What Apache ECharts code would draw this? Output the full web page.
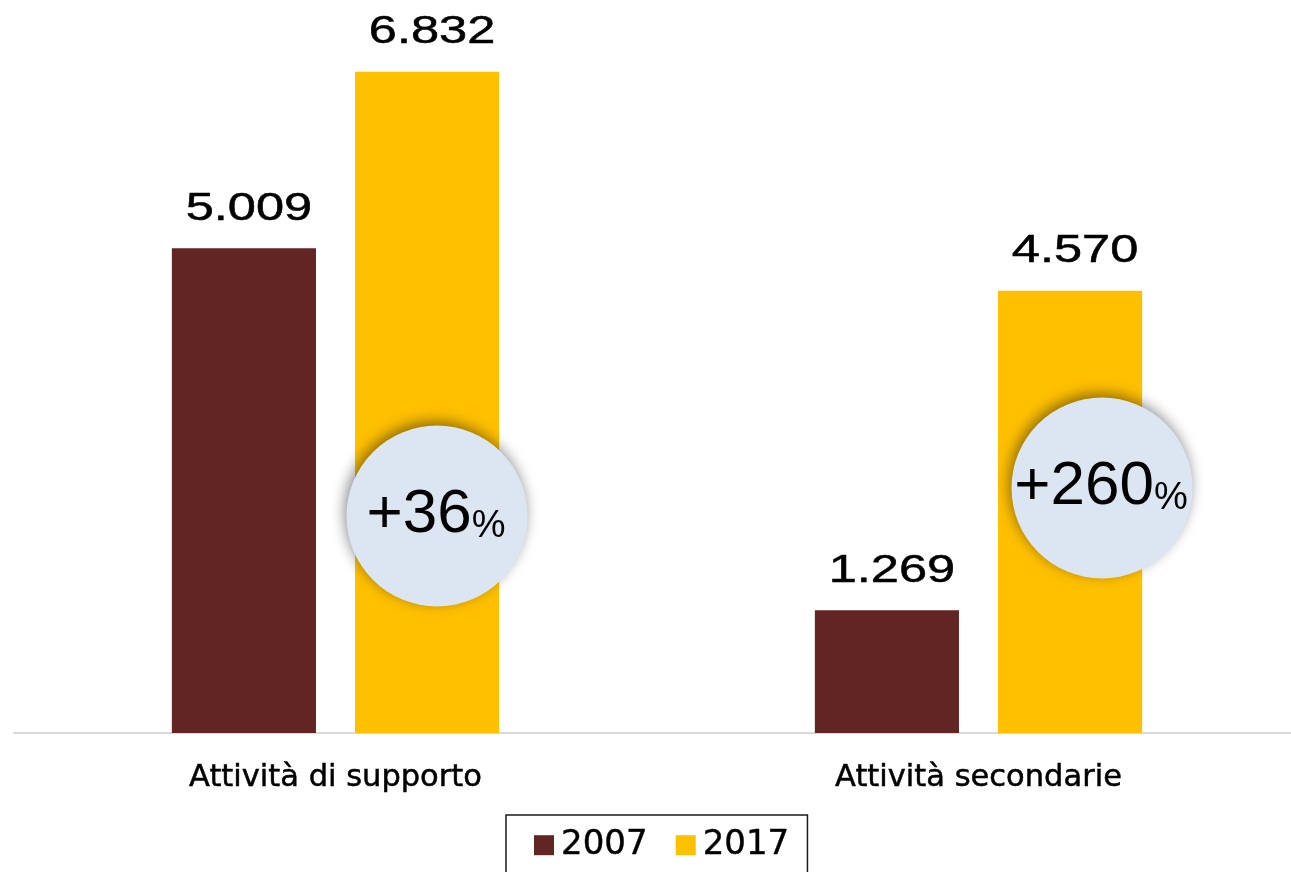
<!DOCTYPE html>
<html>
<head>
<meta charset="utf-8">
<script src="https://cdn.jsdelivr.net/npm/echarts@6/dist/echarts.min.js"></script>
<style>
  html, body { margin: 0; padding: 0; background: #ffffff; }
  #chart { width: 1291px; height: 872px; }
</style>
</head>
<body>
<div id="chart"></div>
<script>
// Addetti per tipo di attività, 2007 vs 2017
const categories = ['Attività di supporto', 'Attività secondarie'];
const years = ['2007', '2017'];
const values2007 = [5009, 1269];
const values2017 = [6832, 4570];

// Badge placement relative to each category's baseline point (px)
const badgeOffsets = [[101.5, 217], [123.5, 245]];

const COLOR_2007 = '#632523';
const COLOR_2017 = '#FFC000';
const CAT_GAP = 0.491;
const BAR_GAP = 0.271;

function fmtIt(n) {
  return String(n).replace(/\B(?=(\d{3})+(?!\d))/g, '.');
}

const growth = categories.map((c, i) =>
  Math.round((values2017[i] / values2007[i] - 1) * 100));

const labelData = [];
values2007.forEach((v, i) => labelData.push([i, v, 0]));
values2017.forEach((v, i) => labelData.push([i, v, 1]));

const chart = echarts.init(document.getElementById('chart'));

chart.setOption({
  animation: false,
  backgroundColor: '#ffffff',
  grid: {
    left: 14, right: -9, top: 55.6, bottom: 139,
    outerBoundsMode: 'none',
    containLabel: false
  },
  legend: {
    data: years,
    left: 506,
    top: 815,
    orient: 'horizontal',
    icon: 'rect',
    itemWidth: 20,
    itemHeight: 20,
    itemGap: 28,
    padding: [13, 18, 40, 28],
    borderColor: '#1a1a1a',
    borderWidth: 1.5,
    textStyle: {
      fontFamily: 'DejaVu Sans',
      fontSize: 34,
      color: '#000000',
      textBorderColor: '#000000',
      textBorderWidth: 0.4,
      padding: [0, 0, 0, 2]
    }
  },
  xAxis: {
    type: 'category',
    data: categories,
    axisLine: { show: true, lineStyle: { color: '#d9d9d9', width: 2 } },
    axisTick: { show: false },
    axisLabel: {
      margin: 30,
      fontFamily: 'DejaVu Sans',
      fontSize: 30.5,
      color: '#000000',
      textBorderColor: '#000000',
      textBorderWidth: 0.5
    }
  },
  yAxis: {
    type: 'value',
    min: 0,
    max: 7000,
    show: false,
    splitLine: { show: false }
  },
  series: [
    {
      name: years[0],
      type: 'bar',
      data: values2007,
      itemStyle: { color: COLOR_2007 },
      barGap: (BAR_GAP * 100) + '%',
      barCategoryGap: (CAT_GAP * 100) + '%',
      z: 2
    },
    {
      name: years[1],
      type: 'bar',
      data: values2017,
      itemStyle: { color: COLOR_2017 },
      barGap: (BAR_GAP * 100) + '%',
      barCategoryGap: (CAT_GAP * 100) + '%',
      z: 2
    },
    {
      // value labels above each bar, in a wide lettering
      name: 'valori',
      type: 'custom',
      silent: true,
      z: 5,
      data: labelData,
      renderItem: function (params, api) {
        const cat = api.value(0);
        const v = api.value(1);
        const s = api.value(2);
        const p = api.coord([cat, v]);
        const band = api.size([1, 0])[0];
        const groupW = band * (1 - CAT_GAP);
        const bw = groupW / (2 + BAR_GAP);
        const off = bw * (1 + BAR_GAP) / 2;
        const x = p[0] + (s === 0 ? -off : off) + 5;
        return {
          type: 'text',
          x: x,
          y: p[1] - 20,
          scaleX: 1.33,
          style: {
            text: fmtIt(v),
            x: 0,
            y: 0,
            align: 'center',
            verticalAlign: 'bottom',
            fontFamily: 'Liberation Sans',
            fontSize: 38,
            fill: '#000000',
            stroke: '#000000',
            lineWidth: 0.5
          }
        };
      }
    },
    {
      // growth badges
      name: 'crescita',
      type: 'custom',
      silent: true,
      z: 4,
      data: growth.map((g, i) => [i, 0, g]),
      renderItem: function (params, api) {
        const i = api.value(0);
        const g = api.value(2);
        const base = api.coord([i, 0]);
        const off = badgeOffsets[i];
        const cx = base[0] + off[0];
        const cy = base[1] - off[1];
        return {
          type: 'group',
          children: [
            {
              type: 'circle',
              shape: { cx: cx, cy: cy, r: 90.5 },
              style: {
                fill: '#dce6f2',
                shadowBlur: 14,
                shadowColor: 'rgba(0,0,0,0.45)',
                shadowOffsetX: -2,
                shadowOffsetY: -4
              }
            },
            {
              type: 'text',
              x: cx - 1,
              y: cy - 1,
              style: {
                text: '{big|+' + g + '}{pct|%}',
                x: 0,
                y: 0,
                align: 'center',
                verticalAlign: 'middle',
                fill: '#000000',
                rich: {
                  big: {
                    fontFamily: 'Liberation Sans',
                    fontSize: 62,
                    lineHeight: 62,
                    fill: '#000000'
                  },
                  pct: {
                    fontFamily: 'Liberation Sans',
                    fontSize: 38,
                    lineHeight: 46,
                    verticalAlign: 'bottom',
                    fill: '#000000'
                  }
                }
              }
            }
          ]
        };
      }
    }
  ]
});
</script>
</body>
</html>
